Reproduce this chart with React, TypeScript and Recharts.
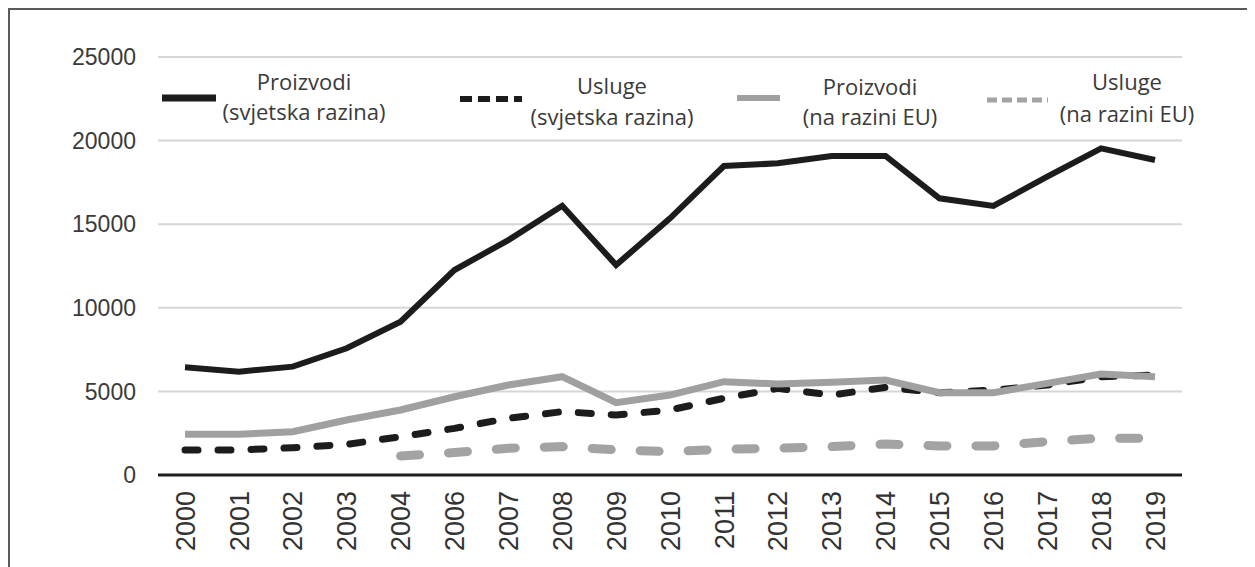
import { LineChart, Line, XAxis, YAxis, CartesianGrid } from 'recharts';

const years = ['2000', '2001', '2002', '2003', '2004', '2006', '2007', '2008', '2009', '2010',
    '2011', '2012', '2013', '2014', '2015', '2016', '2017', '2018', '2019'];

const proizvodiSvijet = [6440, 6180, 6480, 7580, 9170, 12260, 14050, 16100, 12560, 15350,
    18480, 18640, 19080, 19080, 16550, 16090, 17840, 19540, 18840];
const uslugeSvijet = [1500, 1500, 1630, 1830, 2290, 2790, 3390, 3790, 3590, 3890,
    4590, 5180, 4780, 5240, 4920, 5080, 5380, 5880, 5980];
const proizvodiEU = [2430, 2430, 2590, 3290, 3890, 4680, 5380, 5880, 4330, 4780,
    5580, 5440, 5540, 5680, 4920, 4920, 5480, 6040, 5880];
const uslugeEU = [null, null, null, null, 1140, 1340, 1600, 1700, 1500, 1400,
    1540, 1600, 1700, 1850, 1740, 1740, 2000, 2200, 2200];

const yTicks = [0, 5000, 10000, 15000, 20000, 25000];

const data = years.map((y, i) => ({
    year: y,
    ps: proizvodiSvijet[i],
    us: uslugeSvijet[i],
    pe: proizvodiEU[i],
    ue: uslugeEU[i],
}));

const BLACK = '#1c1c1c';
const GREY = '#a0a0a0';

// legend items, drawn in order
const legendItems = [
    { key: 'ps', l1: 'Proizvodi', l2: '(svjetska razina)', color: BLACK, dash: undefined, w: 7 },
    { key: 'us', l1: 'Usluge', l2: '(svjetska razina)', color: BLACK, dash: '12 6', w: 6 },
    { key: 'pe', l1: 'Proizvodi', l2: '(na razini EU)', color: GREY, dash: undefined, w: 6 },
    { key: 'ue', l1: 'Usluge', l2: '(na razini EU)', color: '#a3a3a3', dash: '10 5', w: 5 },
];

// legend layout, relative to chart origin
const legendPos: Record<string, { x1: number; x2: number; sy: number; tx: number; ty: number; gap: number }> = {
    ps: { x1: 152, x2: 206, sy: 88, tx: 294, ty: 72, gap: 30 },
    us: { x1: 450, x2: 512, sy: 89, tx: 602, ty: 76, gap: 31 },
    pe: { x1: 727, x2: 770, sy: 88, tx: 860, ty: 77, gap: 30 },
    ue: { x1: 977, x2: 1038, sy: 90, tx: 1117, ty: 72, gap: 32 },
};

function XTick(props: any) {
    const { x, y, payload } = props;
    return (
        <text
            x={x}
            y={y + 14}
            transform={`rotate(-90, ${x}, ${y + 14})`}
            textAnchor="end"
            dy="0.36em"
            fill="#333"
            fontSize={27}
            fontFamily="'Liberation Sans', Arial, sans-serif"
        >
            {payload.value}
        </text>
    );
}

function ChartLegend() {
    return (
        <svg width={1241} height={140} style={{ position: 'absolute', left: 0, top: 0, pointerEvents: 'none' }}>
            {legendItems.map((it) => {
                const pos = legendPos[it.key];
                return (
                    <g key={it.key}>
                        <line
                            x1={pos.x1}
                            x2={pos.x2}
                            y1={pos.sy}
                            y2={pos.sy}
                            stroke={it.color}
                            strokeWidth={it.w}
                            strokeDasharray={it.dash}
                        />
                        <text
                            x={pos.tx}
                            y={pos.ty}
                            textAnchor="middle"
                            fill="#3a3a3a"
                            fontSize={22}
                            fontFamily="'Open Sans', sans-serif"
                        >
                            <tspan x={pos.tx} dy="0.35em">{it.l1}</tspan>
                            <tspan x={pos.tx} dy={pos.gap}>{it.l2}</tspan>
                        </text>
                    </g>
                );
            })}
        </svg>
    );
}

export default function App() {
    return (
        <div
            style={{
                width: 1241,
                height: 557,
                border: '2px solid #5a5a5a',
                borderBottom: 'none',
                background: '#fff',
                position: 'relative',
            }}
        >
            <LineChart
                width={1241}
                height={557}
                data={data}
                margin={{ top: 47, right: 69, bottom: 0, left: 0 }}
            >
                <CartesianGrid vertical={false} stroke="#d6d6d6" strokeWidth={2} />
                <XAxis
                    dataKey="year"
                    interval={0}
                    height={92}
                    padding={{ left: 27, right: 27 }}
                    tickLine={false}
                    tickSize={0}
                    axisLine={{ stroke: '#1e1e1e', strokeWidth: 3 }}
                    tick={<XTick />}
                />
                <YAxis
                    width={148}
                    domain={[0, 25000]}
                    ticks={yTicks}
                    interval={0}
                    axisLine={false}
                    tickLine={false}
                    tickSize={0}
                    tickMargin={22}
                    tick={{ fill: '#3a3a3a', fontSize: 23, fontFamily: "'Liberation Sans', Arial, sans-serif" }}
                />
                <Line
                    type="linear"
                    dataKey="ue"
                    stroke="#a3a3a3"
                    strokeWidth={9}
                    strokeDasharray="19 29"
                    strokeLinecap="round"
                    dot={false}
                    isAnimationActive={false}
                />
                <Line
                    type="linear"
                    dataKey="us"
                    stroke={BLACK}
                    strokeWidth={7}
                    strokeDasharray="13 20"
                    strokeLinecap="round"
                    dot={false}
                    isAnimationActive={false}
                />
                <Line
                    type="linear"
                    dataKey="pe"
                    stroke={GREY}
                    strokeWidth={7}
                    dot={false}
                    isAnimationActive={false}
                />
                <Line
                    type="linear"
                    dataKey="ps"
                    stroke={BLACK}
                    strokeWidth={6}
                    dot={false}
                    isAnimationActive={false}
                />
            </LineChart>
            <ChartLegend />
        </div>
    );
}
